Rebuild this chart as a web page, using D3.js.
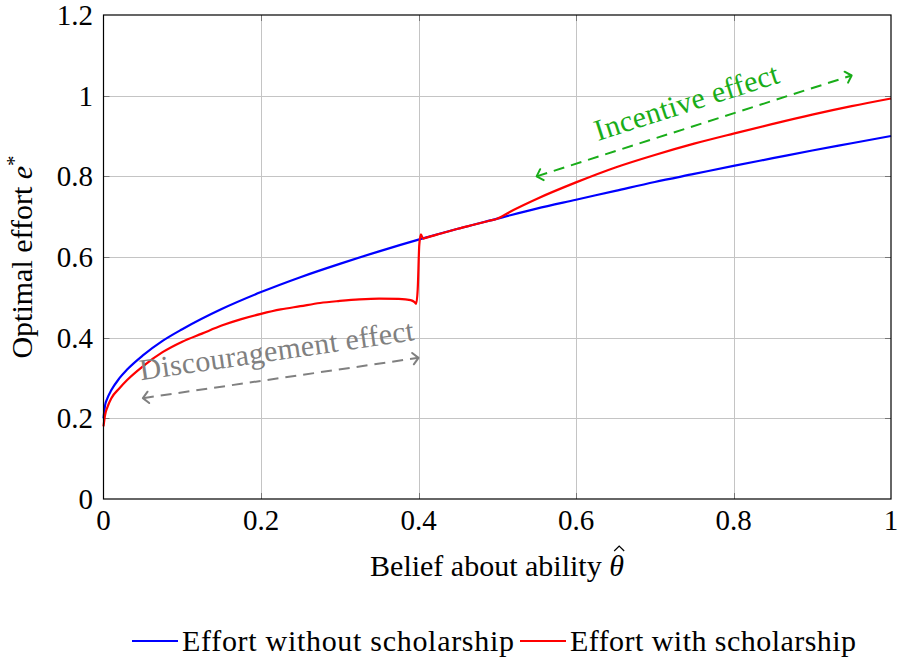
<!DOCTYPE html>
<html>
<head>
<meta charset="utf-8">
<script src="https://cdn.jsdelivr.net/npm/d3@7"></script>
<style>
  html, body { margin: 0; padding: 0; background: #fff; }
  svg { display: block; }
</style>
</head>
<body>
<svg id="chart" width="898" height="661"></svg>
<script>
// Belief about ability (theta-hat) and optimal effort without a scholarship
const thetaNo = [0, 0.002, 0.005, 0.01, 0.02, 0.03, 0.05, 0.075, 0.1, 0.15, 0.2, 0.25, 0.3,
  0.35, 0.4, 0.45, 0.5, 0.55, 0.6, 0.65, 0.7, 0.75, 0.8, 0.85, 0.9, 0.95, 1];
const effortNo = [0.20, 0.232, 0.25, 0.27, 0.299, 0.321, 0.356, 0.392, 0.421, 0.471, 0.513,
  0.55, 0.583, 0.614, 0.643, 0.67, 0.695, 0.72, 0.742, 0.764, 0.786, 0.806, 0.826, 0.845,
  0.864, 0.882, 0.90];

// Optimal effort with a scholarship
const thetaWith = [0, 0.002, 0.005, 0.01, 0.02, 0.03, 0.05, 0.075, 0.1, 0.125, 0.15, 0.175,
  0.2, 0.225, 0.25, 0.275, 0.3, 0.325, 0.35, 0.375, 0.39, 0.395, 0.397, 0.399, 0.401, 0.403,
  0.406, 0.41, 0.43, 0.45, 0.47, 0.49, 0.5, 0.52, 0.55, 0.6, 0.65, 0.7, 0.75, 0.8, 0.85, 0.9,
  0.95, 1];
const effortWith = [0.18, 0.208, 0.228, 0.25, 0.274, 0.295, 0.329, 0.364, 0.39, 0.41, 0.43,
  0.446, 0.459, 0.47, 0.478, 0.486, 0.491, 0.495, 0.497, 0.496, 0.493, 0.488, 0.484, 0.52,
  0.63, 0.656, 0.6455, 0.648, 0.659, 0.67, 0.68, 0.69, 0.695, 0.716, 0.744, 0.785, 0.822,
  0.853, 0.881, 0.906, 0.93, 0.953, 0.974, 0.993];

// Axis ticks
const xTicks = [0, 0.2, 0.4, 0.6, 0.8, 1];
const yTicks = [0, 0.2, 0.4, 0.6, 0.8, 1, 1.2];

// Annotation arrows: [theta, effort] start and end
const discourageArrow = [[0.05, 0.25], [0.4, 0.35]];
const incentiveArrow = [[0.55, 0.8], [0.95, 1.05]];

const seriesNames = ["Effort without scholarship", "Effort with scholarship"];
const seriesColors = ["#0000ff", "#ff0000"];

const FONT = "'Liberation Serif', 'DejaVu Serif', serif";
const svg = d3.select("#chart").attr("font-family", FONT);
const x = d3.scaleLinear().domain([0, 1]).range([103.5, 891]);
const y = d3.scaleLinear().domain([0, 1.2]).range([499, 15]);

// grid
const grid = svg.append("g").attr("stroke", "#c4c4c4").attr("stroke-width", 1);
grid.selectAll("line.gx").data(xTicks.slice(1, -1)).join("line")
  .attr("x1", d => Math.round(x(d)) + 0.5).attr("x2", d => Math.round(x(d)) + 0.5)
  .attr("y1", y(1.2)).attr("y2", y(0));
grid.selectAll("line.gy").data(yTicks.slice(1, -1)).join("line")
  .attr("y1", d => Math.round(y(d)) + 0.5).attr("y2", d => Math.round(y(d)) + 0.5)
  .attr("x1", x(0)).attr("x2", x(1));

// inner tick marks on all four sides
const tk = svg.append("g").attr("stroke", "#777").attr("stroke-width", 1);
yTicks.slice(1, -1).forEach(d => {
  const yy = Math.round(y(d)) + 0.5;
  tk.append("line").attr("x1", x(0)).attr("x2", x(0) + 6).attr("y1", yy).attr("y2", yy);
  tk.append("line").attr("x1", x(1)).attr("x2", x(1) - 6).attr("y1", yy).attr("y2", yy);
});
xTicks.slice(1, -1).forEach(d => {
  const xx = Math.round(x(d)) + 0.5;
  tk.append("line").attr("y1", y(0)).attr("y2", y(0) - 6).attr("x1", xx).attr("x2", xx);
  tk.append("line").attr("y1", y(1.2)).attr("y2", y(1.2) + 6).attr("x1", xx).attr("x2", xx);
});

// curves
const line = d3.line().x(d => x(d[0])).y(d => y(d[1])).curve(d3.curveMonotoneX);
const seriesData = [
  d3.zip(thetaNo, effortNo),
  d3.zip(thetaWith, effortWith)
];
svg.append("g").selectAll("path").data(seriesData).join("path")
  .attr("d", line).attr("fill", "none")
  .attr("stroke", (d, i) => seriesColors[i]).attr("stroke-width", 2.2)
  .attr("stroke-linejoin", "round");

// frame
svg.append("rect").attr("x", x(0)).attr("y", y(1.2))
  .attr("width", x(1) - x(0)).attr("height", y(0) - y(1.2))
  .attr("fill", "none").attr("stroke", "#000").attr("stroke-width", 1.2);

// tick labels
svg.append("g").selectAll("text").data(xTicks).join("text")
  .attr("x", d => x(d)).attr("y", 530).attr("text-anchor", "middle")
  .attr("font-size", 29).text(d => d3.format("~g")(d));
svg.append("g").selectAll("text").data(yTicks).join("text")
  .attr("x", 93).attr("y", d => y(d) + 10).attr("text-anchor", "end")
  .attr("font-size", 29).text(d => d3.format("~g")(d));

// x axis label with theta-hat (hat accent drawn as a small stroke)
const xl = svg.append("text").attr("x", 497).attr("y", 576).attr("text-anchor", "middle")
  .attr("font-size", 30);
xl.append("tspan").text("Belief about ability ");
const thetaSpan = xl.append("tspan").attr("font-style", "italic").text("θ");
{
  const bb = thetaSpan.node().getBBox();
  const cx = bb.x + bb.width / 2 + 2.5, base = 551;
  svg.append("path")
    .attr("d", `M${cx - 5},${base} L${cx},${base - 5} L${cx + 5},${base}`)
    .attr("fill", "none").attr("stroke", "#000").attr("stroke-width", 1.2);
}

// y axis label
const yl = svg.append("text").attr("transform", "translate(32,257) rotate(-90)")
  .attr("text-anchor", "middle").attr("font-size", 30);
yl.append("tspan").text("Optimal effort ");
yl.append("tspan").attr("font-style", "italic").text("e");
yl.append("tspan").attr("dy", -11).attr("font-size", 21).text("*");

// annotation arrows
function arrow(pts, color, label, offset, len) {
  const p0 = [x(pts[0][0]), y(pts[0][1])];
  const p1 = [x(pts[1][0]), y(pts[1][1])];
  const g = svg.append("g");
  g.append("line").attr("x1", p0[0]).attr("y1", p0[1]).attr("x2", p1[0]).attr("y2", p1[1])
    .attr("stroke", color).attr("stroke-width", 2).attr("stroke-dasharray", "11,7");
  const ang = Math.atan2(p1[1] - p0[1], p1[0] - p0[0]);
  const head = (p, a) => {
    const l = 8, s = 0.8;
    const a1 = a + Math.PI - s, a2 = a + Math.PI + s;
    g.append("path")
      .attr("d", `M${p[0] + l * Math.cos(a1)},${p[1] + l * Math.sin(a1)} L${p[0]},${p[1]} L${p[0] + l * Math.cos(a2)},${p[1] + l * Math.sin(a2)}`)
      .attr("fill", "none").attr("stroke", color).attr("stroke-width", 2)
      .attr("stroke-linecap", "round").attr("stroke-linejoin", "round");
  };
  head(p1, ang);
  head(p0, ang + Math.PI);
  const mx = (p0[0] + p1[0]) / 2, my = (p0[1] + p1[1]) / 2;
  g.append("text")
    .attr("transform", `translate(${mx},${my}) rotate(${ang * 180 / Math.PI})`)
    .attr("x", 0).attr("y", -offset).attr("text-anchor", "middle")
    .attr("font-size", 30).attr("textLength", len).attr("lengthAdjust", "spacing")
    .attr("fill", color).text(label);
}
arrow(discourageArrow, "#808080", "Discouragement effect", 18, 277);
arrow(incentiveArrow, "#19ad19", "Incentive effect", 15, 192);

// legend
const lg = svg.append("g");
const legendX = [132, 520];
seriesNames.forEach((name, i) => {
  lg.append("line").attr("x1", legendX[i]).attr("x2", legendX[i] + 46)
    .attr("y1", 641).attr("y2", 641).attr("stroke", seriesColors[i]).attr("stroke-width", 2.2);
  lg.append("text").attr("x", legendX[i] + 50).attr("y", 651).attr("font-size", 30)
    .attr("textLength", i === 0 ? 332 : 286).attr("lengthAdjust", "spacing").text(name);
});
</script>
</body>
</html>
